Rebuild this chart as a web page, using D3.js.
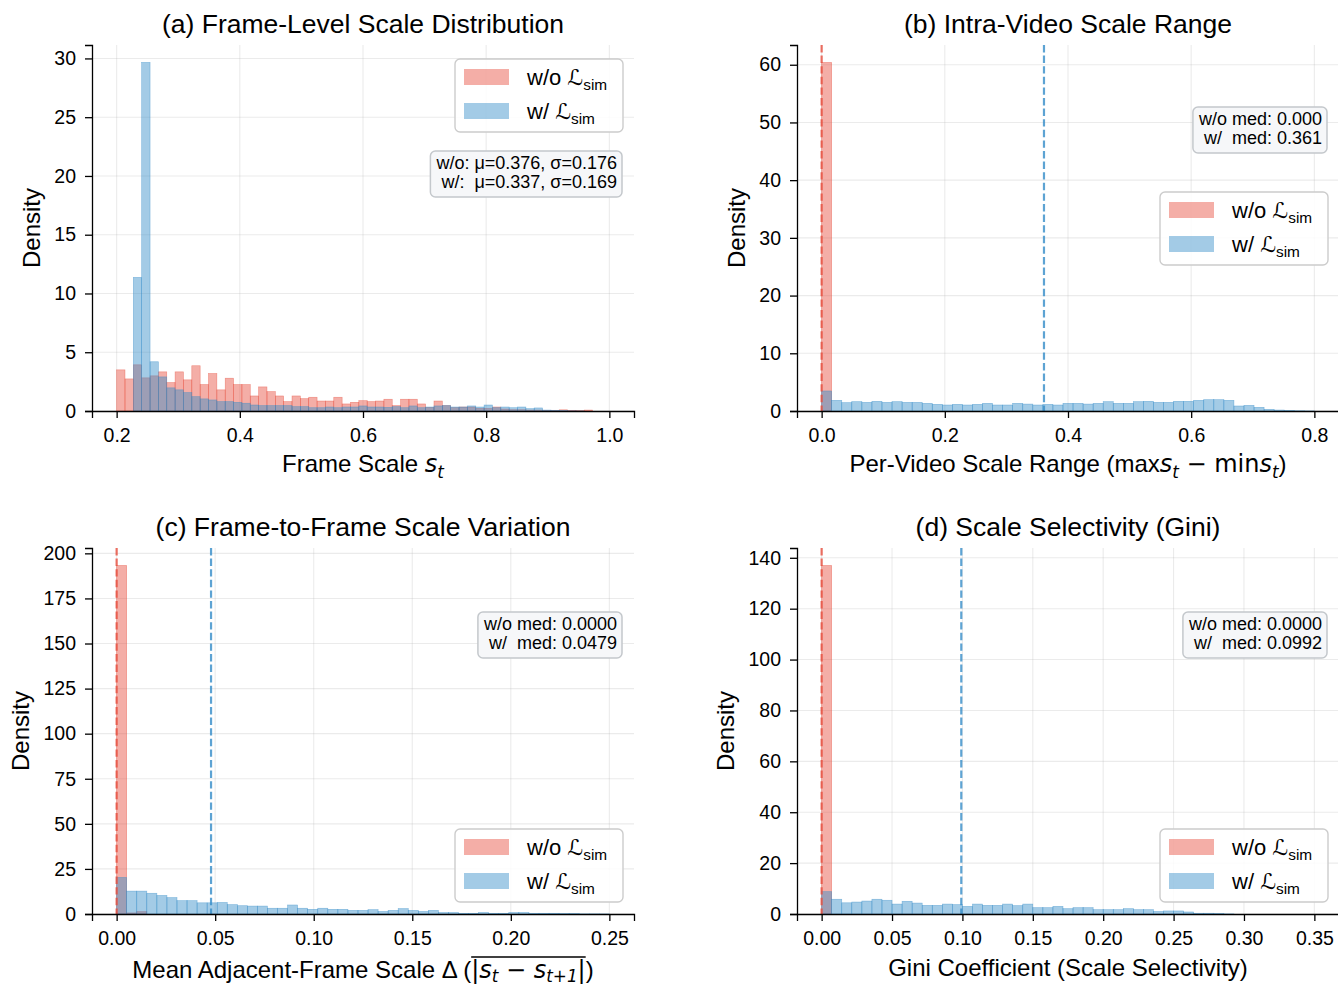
<!DOCTYPE html>
<html><head><meta charset="utf-8">
<script src="https://cdn.jsdelivr.net/npm/d3@7"></script>
<style>
body{margin:0;background:#fff}
svg{display:block}
text{font-family:"Liberation Sans",Arial,Helvetica,sans-serif;fill:#000}
</style>
</head><body>
<svg id="chart" width="1338" height="987"></svg>
<script>
// ---------------- DATA ----------------
const seriesLabels = ["w/o", "w/"];

// (a) Frame-Level Scale Distribution : 59 bins over [0.2, 1.0]
const aBinRange = [0.2, 1.0];
const aWo = [3.5,2.73,3.93,2.82,2.99,3.33,2.42,3.33,2.65,3.85,2.25,3.19,1.8,2.79,2.25,2.25,1.28,2.05,1.65,1.28,0.8,1.28,1.05,1.17,0.85,0.85,1.17,0.6,0.74,0.88,0.8,0.85,1.0,0.46,1.0,1.0,0.6,0.3,0.85,0.46,0.28,0.34,0.34,0.23,0.23,0.34,0.17,0.11,0.11,0.08,0.08,0.06,0.06,0.1,0.06,0.03,0.08,0,0];
const aW  = [0,0,11.37,29.66,4.19,2.9,1.97,1.8,1.57,1.22,1.03,0.94,0.8,0.8,0.74,0.66,0.51,0.46,0.46,0.46,0.46,0.37,0.37,0.28,0.28,0.34,0.28,0.34,0.34,0.43,0.34,0.34,0.31,0.37,0.28,0.43,0.28,0.34,0.43,0.46,0.34,0.34,0.43,0.34,0.51,0.28,0.34,0.28,0.34,0.2,0.26,0.08,0.06,0.03,0.02,0.01,0,0,0];
const aXTicks = [0.2,0.4,0.6,0.8,1.0];
const aYTicks = [0,5,10,15,20,25,30];
const aStats = ["w/o: μ=0.376, σ=0.176", "w/:  μ=0.337, σ=0.169"];

// (b) Intra-Video Scale Range : 49 bins over [0, 0.8]
const bBinRange = [0, 0.8];
const bWo = [60.4,0,0,0,0,0,0,0,0,0,0,0,0,0,0,0,0,0,0,0,0,0,0,0,0,0,0,0,0,0,0,0,0,0,0,0,0,0,0,0,0,0,0,0,0,0,0,0,0];
const bW  = [3.47,1.85,1.45,1.62,1.5,1.68,1.5,1.62,1.5,1.5,1.33,1.16,1.04,1.16,1.04,1.16,1.33,1.04,1.04,1.33,1.2,1.04,1.16,1.04,1.33,1.33,1.2,1.33,1.62,1.33,1.33,1.62,1.68,1.5,1.5,1.68,1.68,1.85,1.96,1.96,1.85,0.87,0.98,0.64,0.29,0.17,0.1,0.05,0.02];
const bMedians = [0.000, 0.361];
const bXTicks = [0,0.2,0.4,0.6,0.8];
const bYTicks = [0,10,20,30,40,50,60];
const bStats = ["w/o med: 0.000", "w/  med: 0.361"];

// (c) Frame-to-Frame Scale Variation : 49 bins over [0, 0.25]
const cBinRange = [0, 0.25];
const cWo = [193.3,0.6,1.3,0,0,0,0,0,0,0,0,0,0,0,0,0,0,0,0,0,0,0,0,0,0,0,0,0,0,0,0,0,0,0,0,0,0,0,0,0,0,0,0,0,0,0,0,0,0];
const cW  = [20.3,12.7,12.7,11.5,10.3,9.1,7.4,7.4,6.2,6.2,6.4,5.2,4.6,4.4,4.4,3.2,3.2,5.0,3.2,2.6,3.2,2.6,2.6,2.0,2.0,2.4,1.4,2.0,3.0,2.0,1.4,2.0,0.8,0.8,0.4,0.4,0.8,0.4,0.4,0.8,0.8,0.4,0.4,0.4,0.2,0.2,0.1,0.1,0.05];
const cMedians = [0.0000, 0.0479];
const cXTicks = [0,0.05,0.10,0.15,0.20,0.25];
const cYTicks = [0,25,50,75,100,125,150,175,200];
const cStats = ["w/o med: 0.0000", "w/  med: 0.0479"];

// (d) Scale Selectivity (Gini) : 49 bins over [0, 0.35]
const dBinRange = [0, 0.35];
const dWo = [137,0,0,0,0,0,0,0,0,0,0,0,0,0,0,0,0,0,0,0,0,0,0,0,0,0,0,0,0,0,0,0,0,0,0,0,0,0,0,0,0,0,0,0,0,0,0,0,0];
const dW  = [8.8,5.8,4.4,4.7,5.1,5.8,5.4,3.9,5.0,4.3,3.4,3.4,3.9,3.7,3.0,3.9,3.4,3.4,3.9,3.3,3.9,2.5,2.5,3.0,2.1,2.5,2.5,1.7,1.7,1.7,2.1,1.7,1.7,1.0,1.2,1.2,0.8,0.3,0.3,0.15,0.05,0,0,0,0,0,0,0,0];
const dMedians = [0.0000, 0.0992];
const dXTicks = [0,0.05,0.10,0.15,0.20,0.25,0.30,0.35];
const dYTicks = [0,20,40,60,80,100,120,140];
const dStats = ["w/o med: 0.0000", "w/  med: 0.0992"];

// ---------------- STYLE ----------------
const RED = "rgb(231,76,60)", BLUE = "rgb(52,140,200)";
const FILL_OP = 0.45;
const svg = d3.select("#chart");
const PW = 542, PH = 366;

function rich(sel, parts, base, subShift){
  let shifted = 0;
  const sh = subShift == null ? 0.24 : subShift;
  parts.forEach(p=>{
    const ts = sel.append("tspan").text(p.t);
    const want = p.sub ? base*sh : 0;
    const dy = want - shifted;
    if (dy) ts.attr("dy", dy);
    shifted = want;
    if (p.sub) ts.attr("font-size", base*0.7);
    if (p.it) ts.attr("font-style","italic");
    if (p.math) ts.attr("font-family","'DejaVu Sans'");
  });
}

function panel(cfg){
  const g = svg.append("g").attr("transform",`translate(${cfg.x},${cfg.y})`);
  const n = cfg.wo.length;
  const [e0,e1] = cfg.binRange;
  const edges = d3.range(n+1).map(i => e0 + (e1-e0)*i/n);
  const pad = (e1-e0)*0.05;
  const xs = d3.scaleLinear().domain([e0-pad, e1+pad]).range([0,PW]);
  const ymax = d3.max(cfg.wo.concat(cfg.w))*1.05;
  const ys = d3.scaleLinear().domain([0,ymax]).range([PH,0]);

  // grid
  g.append("g").selectAll("line").data(cfg.xTicks).join("line")
    .attr("x1",d=>xs(d)).attr("x2",d=>xs(d)).attr("y1",0).attr("y2",PH)
    .attr("stroke","#b0b0b0").attr("stroke-opacity",0.25).attr("stroke-width",1.1);
  g.append("g").selectAll("line").data(cfg.yTicks).join("line")
    .attr("y1",d=>ys(d)).attr("y2",d=>ys(d)).attr("x1",0).attr("x2",PW)
    .attr("stroke","#b0b0b0").attr("stroke-opacity",0.25).attr("stroke-width",1.1);

  // bars
  [[cfg.wo,RED],[cfg.w,BLUE]].forEach(([vals,col])=>{
    g.append("g").selectAll("rect").data(vals.map((v,i)=>({v,i})).filter(d=>d.v>0)).join("rect")
      .attr("x",d=>xs(edges[d.i])).attr("width",d=>xs(edges[d.i+1])-xs(edges[d.i]))
      .attr("y",d=>ys(d.v)).attr("height",d=>ys(0)-ys(d.v))
      .attr("fill",col).attr("fill-opacity",FILL_OP)
      .attr("stroke",col).attr("stroke-opacity",0.55).attr("stroke-width",0.6);
  });

  // medians
  if (cfg.medians){
    [[cfg.medians[0],RED],[cfg.medians[1],BLUE]].forEach(([m,col])=>{
      g.append("line").attr("x1",xs(m)).attr("x2",xs(m)).attr("y1",0).attr("y2",PH)
        .attr("stroke",col).attr("stroke-opacity",0.8).attr("stroke-width",2.2)
        .attr("stroke-dasharray","7.4,3.2");
    });
  }

  // axes
  const xa = g.append("g").attr("transform",`translate(0,${PH})`)
    .call(d3.axisBottom(xs).tickValues(cfg.xTicks).tickFormat(d3.format(cfg.xFmt)).tickSizeOuter(0).tickSize(7).tickPadding(10));
  const ya = g.append("g")
    .call(d3.axisLeft(ys).tickValues(cfg.yTicks).tickFormat(d3.format("d")).tickSizeOuter(0).tickSize(7).tickPadding(9));
  [xa,ya].forEach(a=>{
    a.select(".domain").attr("stroke","#000").attr("stroke-width",1.3);
    a.selectAll(".tick line").attr("stroke","#000").attr("stroke-width",1.3);
    a.selectAll(".tick text").attr("font-size",19.5).attr("font-family","'Liberation Sans',Arial,sans-serif").attr("fill","#000");
  });

  // title
  g.append("text").attr("x",PW/2).attr("y",-12).attr("text-anchor","middle")
    .attr("font-size",26.5).text(cfg.title);
  // y label
  g.append("text").attr("transform",`translate(${cfg.ylabX},${PH/2}) rotate(-90)`)
    .attr("text-anchor","middle").attr("font-size",24).text("Density");
  // x label
  const xl = g.append("text").attr("x",PW/2).attr("y",PH+cfg.xlabDy).attr("text-anchor","middle")
    .attr("font-size",24);
  rich(xl, cfg.xlabel, 24, cfg.subShift);
  if (cfg.overline){
    const node = xl.node();
    const [i0,i1] = cfg.overline;
    const xa0 = node.getStartPositionOfChar(i0).x;
    const xa1 = node.getEndPositionOfChar(i1).x;
    g.append("line").attr("x1",xa0).attr("x2",xa1).attr("y1",PH+cfg.xlabDy-21).attr("y2",PH+cfg.xlabDy-21)
      .attr("stroke","#000").attr("stroke-width",1.3);
  }

  // legend
  const lw = 168, lh = 73;
  const lx = PW - 11 - lw, ly = cfg.legY;
  const lg = g.append("g").attr("transform",`translate(${lx},${ly})`);
  lg.append("rect").attr("width",lw).attr("height",lh).attr("rx",5)
    .attr("fill","#fff").attr("fill-opacity",0.85).attr("stroke","#cccccc").attr("stroke-width",1.4);
  [[RED,seriesLabels[0]],[BLUE,seriesLabels[1]]].forEach(([col,lab],k)=>{
    lg.append("rect").attr("x",9).attr("y",10+k*34).attr("width",45).attr("height",16)
      .attr("fill",col).attr("fill-opacity",FILL_OP);
    const t = lg.append("text").attr("x",72).attr("y",26+k*34).attr("font-size",22);
    rich(t,[{t:lab+" "},{t:"ℒ",math:true},{t:"sim",sub:true}],22);
  });

  // stats box
  const sg = g.append("g");
  const st = sg.append("text").attr("font-size",18).attr("text-anchor","end").style("white-space","pre");
  const rightX = PW - 11 - 6;
  cfg.stats.forEach((s,k)=>{
    st.append("tspan").attr("x",rightX).attr("y",cfg.statY+18+k*19).text(s);
  });
  const bb = st.node().getBBox();
  sg.insert("rect","text").attr("x",bb.x-5).attr("y",cfg.statY).attr("width",bb.width+10).attr("height",46)
    .attr("rx",5).attr("fill","#f6f7f9").attr("stroke","#c4c8cc").attr("stroke-width",1.5);
}

panel({x:92,y:45,binRange:aBinRange,wo:aWo,w:aW,medians:null,xTicks:aXTicks,yTicks:aYTicks,xFmt:".1f",
  title:"(a) Frame-Level Scale Distribution",ylabX:-52,xlabDy:61,
  xlabel:[{t:"Frame Scale "},{t:"s",it:true,math:true},{t:"t",it:true,sub:true,math:true}],
  legY:14,stats:aStats,statY:106});

panel({x:797,y:45,binRange:bBinRange,wo:bWo,w:bW,medians:bMedians,xTicks:bXTicks,yTicks:bYTicks,xFmt:".1f",
  title:"(b) Intra-Video Scale Range",ylabX:-52,xlabDy:61,
  xlabel:[{t:"Per-Video Scale Range (max"},{t:"s",it:true,math:true},{t:"t",it:true,sub:true,math:true},
          {t:" − min",math:true},{t:"s",it:true,math:true},{t:"t",it:true,sub:true,math:true},{t:")"}],
  legY:147,stats:bStats,statY:62});

panel({x:92,y:548,binRange:cBinRange,wo:cWo,w:cW,medians:cMedians,xTicks:cXTicks,yTicks:cYTicks,xFmt:".2f",
  title:"(c) Frame-to-Frame Scale Variation",ylabX:-63,xlabDy:64,subShift:0.17,
  xlabel:[{t:"Mean Adjacent-Frame Scale Δ ("},{t:"|",math:true},{t:"s",it:true,math:true},{t:"t",it:true,sub:true,math:true},
          {t:" − ",math:true},{t:"s",it:true,math:true},{t:"t+1",it:true,sub:true,math:true},{t:"|",math:true},{t:")"}],
  overline:[29, 29+1+1+1+3+1+3],
  legY:281,stats:cStats,statY:64});

panel({x:797,y:548,binRange:dBinRange,wo:dWo,w:dW,medians:dMedians,xTicks:dXTicks,yTicks:dYTicks,xFmt:".2f",
  title:"(d) Scale Selectivity (Gini)",ylabX:-63,xlabDy:62,
  xlabel:[{t:"Gini Coefficient (Scale Selectivity)"}],
  legY:281,stats:dStats,statY:64});
</script>
</body></html>
